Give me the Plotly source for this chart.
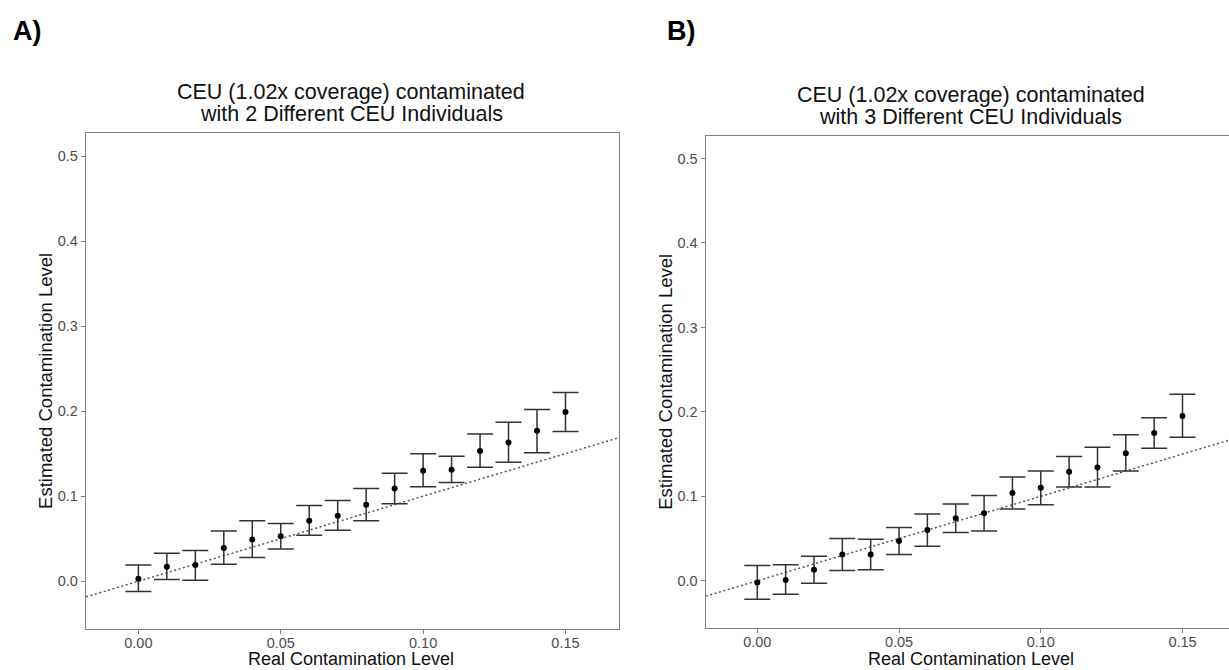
import plotly.graph_objects as go

# ---------------- data ----------------
real_level = [0.00, 0.01, 0.02, 0.03, 0.04, 0.05, 0.06, 0.07,
              0.08, 0.09, 0.10, 0.11, 0.12, 0.13, 0.14, 0.15]

est_a = [0.003, 0.017, 0.019, 0.039, 0.049, 0.053, 0.071, 0.077,
         0.090, 0.109, 0.130, 0.131, 0.153, 0.163, 0.177, 0.199]
upper_a = [0.019, 0.033, 0.036, 0.059, 0.071, 0.068, 0.089, 0.095,
           0.109, 0.127, 0.150, 0.147, 0.173, 0.187, 0.202, 0.222]
lower_a = [-0.012, 0.002, 0.001, 0.020, 0.028, 0.038, 0.054, 0.060,
           0.071, 0.091, 0.111, 0.116, 0.134, 0.140, 0.151, 0.176]

est_b = [-0.002, 0.001, 0.013, 0.031, 0.031, 0.047, 0.060, 0.074,
         0.080, 0.104, 0.110, 0.129, 0.134, 0.151, 0.175, 0.195]
upper_b = [0.018, 0.019, 0.029, 0.050, 0.049, 0.063, 0.079, 0.091,
           0.101, 0.123, 0.130, 0.147, 0.158, 0.173, 0.193, 0.221]
lower_b = [-0.022, -0.016, -0.003, 0.012, 0.013, 0.031, 0.041, 0.057,
           0.059, 0.085, 0.090, 0.111, 0.111, 0.130, 0.157, 0.170]

x_ticks = [0.00, 0.05, 0.10, 0.15]
y_ticks = [0.0, 0.1, 0.2, 0.3, 0.4, 0.5]

title_a = ["CEU (1.02x coverage) contaminated", "with 2 Different CEU Individuals"]
title_b = ["CEU (1.02x coverage) contaminated", "with 3 Different CEU Individuals"]
panel_labels = ["A)", "B)"]
x_title = "Real Contamination Level"
y_title = "Estimated Contamination Level"

# ---------------- layout helpers ----------------
W, H = 1229, 670
FONT = "Liberation Sans, Arial, Helvetica, sans-serif"


def px(x):
    return x / W


def py(y):
    return 1 - y / H


panels = [
    dict(est=est_a, up=upper_a, lo=lower_a, xa="x", ya="y",
         xdom=[px(86), px(619)], ydom=[py(628.5), py(133.3)],
         xrange=[-0.0184, 0.1688], mirror_y=True,
         title=title_a, title_y=[92, 114], cx=351,
         ytitle_x=46, label=panel_labels[0], label_x=27),
    dict(est=est_b, up=upper_b, lo=lower_b, xa="x2", ya="y2",
         xdom=[px(705.7), 1.0], ydom=[py(627.7), py(136)],
         xrange=[-0.0182, 0.1664], mirror_y=False,
         title=title_b, title_y=[95, 117], cx=970.5,
         ytitle_x=666, label=panel_labels[1], label_x=681),
]
y_range = [-0.0556, 0.5267]

fig = go.Figure()
annotations = []
layout_axes = {}

for i, p in enumerate(panels):
    xr = p["xrange"]
    # identity reference line (y = x) across the panel
    fig.add_trace(go.Scatter(
        x=xr, y=xr, mode="lines",
        line=dict(color="#555555", width=1.5, dash="2px,2.6px"),
        xaxis=p["xa"], yaxis=p["ya"], hoverinfo="skip", showlegend=False))
    fig.add_trace(go.Scatter(
        x=real_level, y=p["est"], mode="markers",
        marker=dict(color="black", size=6),
        error_y=dict(type="data", symmetric=False,
                     array=[u - e for u, e in zip(p["up"], p["est"])],
                     arrayminus=[e - l for e, l in zip(p["est"], p["lo"])],
                     color="#333333", thickness=1.5, width=13),
        xaxis=p["xa"], yaxis=p["ya"], showlegend=False))

    suffix = "" if i == 0 else "2"
    common = dict(showline=True, linecolor="#808080", linewidth=1.3,
                  ticks="outside", ticklen=4, tickwidth=1, tickcolor="#808080",
                  tickfont=dict(family=FONT, size=14.5, color="#4d4d4d"),
                  showgrid=False, zeroline=False)
    layout_axes["xaxis" + suffix] = dict(
        domain=p["xdom"], range=xr, anchor="y" + suffix, mirror=True,
        tickvals=x_ticks, tickformat=".2f", ticklabelstandoff=-3, **common)
    layout_axes["yaxis" + suffix] = dict(
        domain=p["ydom"], range=y_range, anchor="x" + suffix,
        mirror=p["mirror_y"], tickvals=y_ticks, tickformat=".1f", **common)

    # titles (two lines)
    for line, yy in zip(p["title"], p["title_y"]):
        annotations.append(dict(
            text=line, x=px(p["cx"]), y=py(yy), xref="paper", yref="paper",
            xanchor="center", yanchor="middle", showarrow=False,
            font=dict(family=FONT, size=21.5, color="#111111")))
    # x title
    annotations.append(dict(
        text=x_title, x=px(p["cx"]), y=py(658.5), xref="paper", yref="paper",
        xanchor="center", yanchor="middle", showarrow=False, borderpad=0,
        font=dict(family=FONT, size=18, color="#111111")))
    # y title
    ymid = (p["ydom"][0] + p["ydom"][1]) / 2
    annotations.append(dict(
        text=y_title, x=px(p["ytitle_x"]), y=ymid, xref="paper", yref="paper",
        xanchor="center", yanchor="middle", showarrow=False, textangle=-90,
        font=dict(family=FONT, size=18.5, color="#111111")))
    # panel label
    annotations.append(dict(
        text="<b>" + p["label"] + "</b>", x=px(p["label_x"]), y=py(31),
        xref="paper", yref="paper", xanchor="center", yanchor="middle",
        showarrow=False, font=dict(family=FONT, size=27, color="black")))

fig.update_layout(
    width=W, height=H,
    margin=dict(l=0, r=0, t=0, b=0),
    paper_bgcolor="white", plot_bgcolor="white",
    annotations=annotations,
    showlegend=False,
    **layout_axes)

fig.write_html("out.html")
